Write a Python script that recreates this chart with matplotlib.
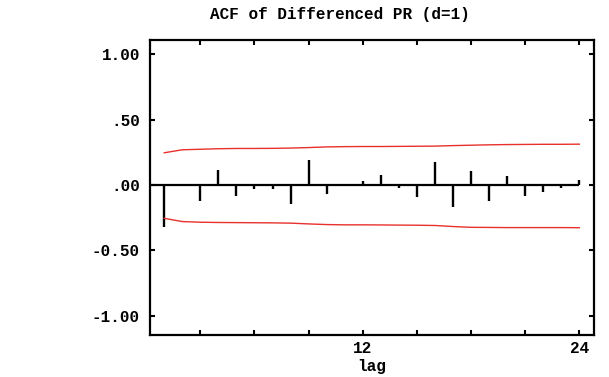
import numpy as np
import matplotlib
matplotlib.use('Agg')
import matplotlib.pyplot as plt

# lags and autocorrelations
lags = np.arange(1, 25)
acf = [-0.323, 0.0, -0.12, 0.115, -0.084, -0.03, -0.033, -0.148,
       0.193, -0.071, 0.0, 0.033, 0.076, -0.02, -0.089, 0.178,
       -0.17, 0.104, -0.125, 0.069, -0.084, -0.051, -0.02, 0.04]

# confidence band (upper / lower), read per lag
upper = [0.247, 0.270, 0.274, 0.278, 0.280, 0.280, 0.281, 0.283,
         0.287, 0.292, 0.294, 0.295, 0.295, 0.296, 0.297, 0.298,
         0.302, 0.305, 0.308, 0.310, 0.311, 0.312, 0.312, 0.313]
lower = [-0.255, -0.280, -0.285, -0.287, -0.288, -0.289, -0.290, -0.292,
         -0.298, -0.303, -0.305, -0.305, -0.306, -0.307, -0.308, -0.310,
         -0.318, -0.324, -0.325, -0.326, -0.326, -0.326, -0.326, -0.327]

x_ticks = [3, 6, 9, 12, 15, 18, 21, 24]
x_labels = ['', '', '', '12', '', '', '', '24']
y_ticks = [-1.0, -0.5, 0.0, 0.5, 1.0]
y_labels = ['-1.00', '-0.50', '.00', '.50', '1.00']

FONT = 'Liberation Mono'
FS = 11.5

fig = plt.figure(figsize=(6.09, 3.77), dpi=100)
ax = fig.add_axes([0.2463, 0.1114, 0.729, 0.7825])

xmin, xmax = 0.21, 24.81
ax.set_xlim(xmin, xmax)
ax.set_ylim(-1.149, 1.111)

# zero line and spikes
ax.hlines(0, xmin, 24, color='black', linewidth=1.6)
ax.vlines(lags, 0, acf, color='black', linewidth=1.7)

# confidence limits
ax.plot(lags, upper, color='#e8302c', linewidth=1.0)
ax.plot(lags, lower, color='#e8302c', linewidth=1.0)

for s in ax.spines.values():
    s.set_linewidth(1.6)
    s.set_color('black')

ax.set_xticks(x_ticks)
ax.set_xticklabels(x_labels)
ax.set_yticks(y_ticks)
ax.set_yticklabels(y_labels)
ax.tick_params(axis='both', direction='in', top=True, right=True,
               length=3.8, width=1.5, colors='black')
ax.tick_params(axis='y', pad=7.2)
ax.tick_params(axis='x', pad=4.5)
for lab in ax.get_xticklabels() + ax.get_yticklabels():
    lab.set_fontfamily(FONT)
    lab.set_fontweight('bold')
    lab.set_fontsize(FS)

fig.text(340 / 609, 1 - 14 / 377, 'ACF of Differenced PR (d=1)',
         ha='center', va='center', fontfamily=FONT, fontweight='bold', fontsize=FS)
fig.text(372 / 609, 1 - 367 / 377, 'lag',
         ha='center', va='center', fontfamily=FONT, fontweight='bold', fontsize=FS)

fig.savefig('out.png', dpi=100)
